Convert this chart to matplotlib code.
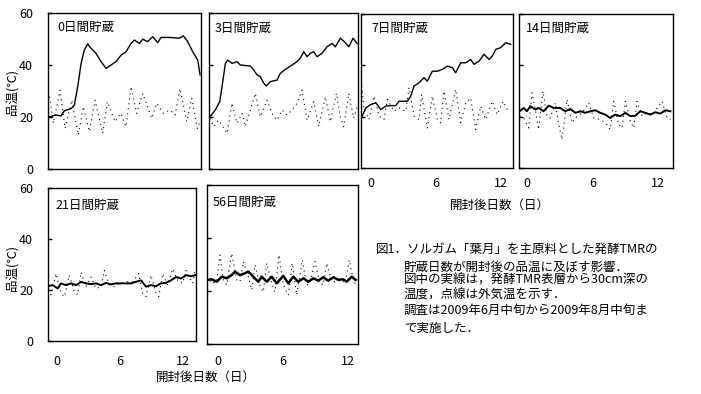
import matplotlib
matplotlib.use('Agg')
import matplotlib.pyplot as plt

plt.rcParams['font.family'] = ['Noto Sans CJK JP', 'DejaVu Sans']

# ---------------- data (days after opening, temperature °C) ----------------
panel_titles = ['0日間貯蔵', '3日間貯蔵', '7日間貯蔵', '14日間貯蔵', '21日間貯蔵', '56日間貯蔵']
x_ticks = [0, 6, 12]
y_ticks = [0, 20, 40, 60]
y_label = '品温(℃)'
x_label = '開封後日数（日）'

# 0日間貯蔵
d0_tmr_x = [-0.79, -0.1, 0.38, 0.70, 1.33, 1.65, 1.97, 2.29, 2.6, 2.92, 3.24, 3.71, 4.19, 4.67, 5.14,
            5.62, 6.1, 6.57, 7.05, 7.37, 7.84, 8.16, 8.63, 9.11, 9.59, 9.9, 10.7, 11.65, 12.03, 12.44,
            12.92, 13.4, 13.62]
d0_tmr = [19.9, 20.8, 20.4, 22.4, 23.2, 24.6, 31.7, 40.6, 45.8, 48.1, 46.4, 44.5, 41.3, 38.7, 40.0,
          41.3, 43.8, 45.1, 48.3, 49.6, 48.3, 49.9, 49.0, 50.9, 48.6, 50.6, 50.6, 50.3, 51.2, 49.0,
          45.1, 41.9, 36.2]
d0_air_x = [-0.73, -0.35, 0.29, 0.76, 1.4, 2.03, 2.5, 3.08, 3.62, 4.35, 4.79, 5.52, 6.07, 6.57, 7.05,
            7.59, 8.16, 9.02, 9.5, 10.12, 10.76, 11.24, 11.71, 12.35, 12.83, 13.36, 13.62]
d0_air = [27.8, 17.6, 30.4, 15.6, 26.5, 13.1, 24.0, 14.4, 26.5, 13.7, 25.9, 18.2, 21.4, 16.3, 31.7,
          21.4, 29.1, 19.5, 25.3, 21.4, 22.7, 20.8, 31.0, 18.2, 27.2, 15.6, 18.2]

# 3日間貯蔵
d3_tmr_x = [-0.79, -0.26, 0.16, 0.38, 0.7, 0.92, 1.33, 1.81, 2.12, 3.08, 3.4, 3.71, 4.03, 4.35, 4.6,
            4.98, 5.62, 5.93, 6.41, 7.05, 7.52, 7.84, 8.16, 8.48, 8.79, 9.11, 9.43, 9.9, 10.38, 10.86,
            11.17, 11.65, 12.03, 12.45, 12.86, 13.24]
d3_tmr = [19.9, 22.7, 25.9, 31.7, 40.6, 41.9, 40.6, 41.3, 40.0, 39.6, 38.1, 36.2, 35.5, 33.0, 31.9,
          33.6, 34.2, 36.8, 38.3, 40.0, 41.3, 42.6, 45.1, 43.2, 44.5, 45.1, 43.2, 44.5, 47.0, 48.3,
          47.0, 50.3, 49.0, 47.0, 50.3, 48.3]
d3_air_x = [-0.73, -0.41, 0.07, 0.38, 0.86, 1.33, 1.81, 2.29, 2.6, 3.08, 3.55, 4.03, 4.67, 5.14, 5.62,
            6.1, 6.57, 7.05, 7.52, 8.0, 8.48, 9.11, 9.59, 10.22, 10.7, 11.27, 11.65, 11.97, 12.45,
            12.92, 13.24]
d3_air = [19.5, 16.3, 18.8, 16.9, 13.7, 25.3, 17.6, 21.4, 16.3, 22.7, 29.1, 20.1, 26.5, 21.4, 18.8,
          22.7, 20.8, 22.7, 25.3, 30.4, 18.8, 25.9, 16.3, 27.8, 18.2, 29.1, 20.1, 16.3, 29.1,
          19.5, 24.0]

# 7日間貯蔵
d7_tmr_x = [-0.86, -0.49, -0.03, 0.44, 0.9, 1.36, 1.82, 2.29, 2.59, 3.36, 3.68, 3.98, 4.44, 4.91, 5.21,
            5.68, 6.14, 6.6, 7.06, 7.53, 7.84, 8.31, 8.77, 9.23, 9.54, 10.0, 10.46, 10.93, 11.23,
            11.55, 12.01, 12.47, 12.94]
d7_tmr = [19.9, 23.4, 24.7, 25.4, 22.8, 24.1, 24.3, 24.3, 26.0, 26.0, 28.0, 31.9, 33.2, 35.2, 33.8,
          37.7, 37.7, 38.4, 39.7, 39.1, 37.1, 41.0, 41.0, 42.3, 40.4, 41.6, 44.3, 42.3, 43.6,
          46.2, 46.9, 48.8, 48.2]
d7_air_x = [-0.86, -0.65, -0.19, 0.28, 0.74, 1.2, 1.51, 2.13, 2.59, 3.21, 3.52, 3.98, 4.44, 4.69, 5.21,
            5.68, 6.14, 6.45, 6.76, 7.22, 7.84, 8.31, 8.77, 9.23, 9.69, 10.16, 10.62, 11.23, 11.69,
            12.22, 12.78]
d7_air = [31.9, 22.8, 18.9, 28.0, 20.2, 18.9, 26.7, 22.1, 23.4, 22.1, 31.3, 20.2, 18.9, 28.6, 15.6,
          28.0, 18.9, 17.6, 29.9, 18.9, 30.6, 17.6, 25.4, 27.3, 15.0, 24.1, 18.9, 26.0, 20.8,
          26.0, 21.5]

# 14日間貯蔵
d14_tmr_x = [-0.67, -0.3, 0.0, 0.3, 0.76, 1.07, 1.53, 1.99, 2.45, 3.06, 3.51, 3.97, 4.43, 4.89, 5.35,
             5.81, 6.27, 6.72, 7.18, 7.64, 8.1, 8.56, 9.02, 9.48, 9.94, 10.39, 10.85, 11.31, 11.77,
             12.23, 12.69, 13.15]
d14_tmr = [22.1, 23.4, 22.1, 24.1, 22.8, 23.4, 22.1, 24.3, 23.4, 23.4, 22.1, 23.0, 21.5, 22.1, 21.5,
           22.1, 22.5, 21.5, 20.8, 19.5, 20.8, 20.2, 21.5, 20.2, 20.4, 22.1, 21.5, 20.8, 21.7,
           21.2, 22.5, 22.1]
d14_air_x = [-0.67, -0.3, 0.16, 0.46, 0.76, 1.07, 1.47, 1.83, 2.14, 2.6, 2.91, 3.21, 3.67, 4.13, 4.59,
             5.05, 5.66, 6.12, 6.72, 7.18, 7.64, 7.95, 8.41, 8.72, 9.02, 9.48, 9.79, 10.09, 10.55,
             11.01, 11.47, 11.93, 12.39, 12.84, 13.15]
d14_air = [20.2, 19.5, 15.6, 29.3, 22.8, 15.0, 29.9, 20.2, 19.5, 25.4, 16.9, 11.1, 26.7, 17.6, 20.2,
           21.5, 25.4, 19.5, 18.9, 17.6, 15.0, 26.0, 16.9, 15.6, 26.0, 18.2, 15.6, 26.0, 20.2,
           21.5, 20.8, 23.4, 26.0, 19.5, 18.9]

# 21日間貯蔵
d21_tmr_x = [-0.89, -0.41, 0.07, 0.38, 0.86, 1.33, 1.81, 2.29, 2.76, 3.24, 3.71, 4.19, 4.67, 5.14, 5.62,
             6.1, 6.57, 7.05, 7.52, 8.0, 8.48, 8.95, 9.43, 9.9, 10.38, 10.86, 11.33, 11.81, 12.29,
             12.76, 13.17]
d21_tmr = [21.5, 21.9, 20.6, 22.6, 21.9, 22.6, 21.9, 23.2, 22.6, 22.3, 22.6, 21.9, 22.8, 22.2, 22.6,
           22.6, 22.6, 22.6, 23.2, 23.8, 21.3, 21.9, 21.5, 22.6, 22.8, 23.8, 25.1, 24.5, 25.8,
           25.4, 25.8]
d21_air_x = [-0.89, -0.57, -0.1, 0.38, 0.7, 1.17, 1.65, 1.97, 2.29, 2.76, 3.24, 3.71, 4.19, 4.5, 4.98,
             5.46, 5.93, 6.57, 7.21, 7.78, 8.16, 8.48, 8.95, 9.43, 9.69, 10.07, 10.54, 11.02, 11.5,
             11.97, 12.29, 12.92, 13.17]
d21_air = [20.0, 18.1, 26.4, 18.7, 17.4, 25.8, 19.3, 18.1, 27.0, 21.3, 25.1, 20.6, 21.3, 27.7, 21.9,
           21.3, 22.6, 23.2, 23.2, 26.4, 18.7, 17.4, 25.8, 18.7, 17.4, 26.4, 21.9, 28.3, 23.8,
           22.6, 27.7, 22.6, 27.7]

# 56日間貯蔵
d56_tmr_x = [-1.04, -0.58, -0.12, 0.34, 0.8, 1.26, 1.57, 2.03, 2.49, 2.8, 3.26, 3.72, 4.04, 4.5, 4.96,
             5.42, 6.03, 6.49, 6.95, 7.41, 7.88, 8.34, 8.8, 9.26, 9.72, 10.18, 10.65, 11.11, 11.57,
             11.88, 12.35, 12.71]
d56_tmr = [24.2, 24.4, 23.5, 25.4, 24.8, 26.0, 27.3, 26.0, 26.7, 27.3, 25.4, 23.5, 25.4, 23.5, 25.4,
           22.9, 25.7, 22.9, 25.4, 23.5, 24.8, 23.5, 24.8, 23.9, 25.2, 23.9, 25.2, 24.2, 24.4,
           23.5, 25.4, 24.2]
d56_air_x = [-1.04, -0.58, -0.12, 0.18, 0.49, 0.8, 1.26, 1.73, 2.03, 2.34, 2.8, 3.11, 3.42, 3.88, 4.18,
             4.5, 4.96, 5.26, 5.63, 6.03, 6.49, 6.86, 7.27, 7.78, 8.19, 8.49, 8.96, 9.42, 9.72,
             10.04, 10.5, 10.96, 11.42, 11.73, 12.12, 12.49, 12.81]
d56_air = [25.4, 22.9, 23.5, 33.6, 24.2, 22.3, 34.2, 24.2, 23.5, 31.1, 25.4, 20.4, 29.8, 21.6, 19.7,
           30.5, 22.9, 19.7, 33.6, 22.3, 18.5, 30.5, 18.5, 31.7, 22.3, 22.9, 31.1, 22.9, 22.3,
           30.5, 23.5, 23.5, 24.2, 22.9, 31.7, 24.2, 21.6]

caption_lines = [
    '図1．ソルガム「葉月」を主原料とした発酵TMRの',
    '貯蔵日数が開封後の品温に及ぼす影響．',
    '図中の実線は，発酵TMR表層から30cm深の',
    '温度，点線は外気温を示す．',
    '調査は2009年6月中旬から2009年8月中旬ま',
    'で実施した．',
]

# ---------------- layout ----------------
W, H = 701, 394
fig = plt.figure(figsize=(W / 100, H / 100), dpi=100)


def box(l, t, r, b):
    return [l / W, 1 - b / H, (r - l) / W, (b - t) / H]


panels = [
    dict(rect=box(48, 13, 201, 169), xlim=(-0.86, 13.71), tmr=(d0_tmr_x, d0_tmr), air=(d0_air_x, d0_air),
         ylab=True, xlab=False, lw=1.0, toff=(9, 14), xpad=7),
    dict(rect=box(209, 13, 358, 169), xlim=(-0.86, 13.33), tmr=(d3_tmr_x, d3_tmr), air=(d3_air_x, d3_air),
         ylab=False, xlab=False, lw=1.0, toff=(6, 15), xpad=7),
    dict(rect=box(361, 14, 513, 168), xlim=(-0.93, 13.15), tmr=(d7_tmr_x, d7_tmr), air=(d7_air_x, d7_air),
         ylab=False, xlab=True, lw=1.0, toff=(10, 14), xpad=6.5),
    dict(rect=box(519, 14, 673, 168), xlim=(-0.73, 13.39), tmr=(d14_tmr_x, d14_tmr), air=(d14_air_x, d14_air),
         ylab=False, xlab=True, lw=1.4, toff=(7, 14), xpad=6.5),
    dict(rect=box(48, 188, 196, 341), xlim=(-0.86, 13.24), tmr=(d21_tmr_x, d21_tmr), air=(d21_air_x, d21_air),
         ylab=True, xlab=True, lw=1.4, toff=(7, 17), xpad=10),
    dict(rect=box(207, 185, 358, 344), xlim=(-1.02, 12.93), tmr=(d56_tmr_x, d56_tmr), air=(d56_air_x, d56_air),
         ylab=False, xlab=True, lw=1.8, toff=(6, 17), xpad=8),
]

for title, p in zip(panel_titles, panels):
    ax = fig.add_axes(p['rect'])
    ax.plot(p['air'][0], p['air'][1], color='black', lw=0.8, linestyle=(0, (1, 3.5)))
    ax.plot(p['tmr'][0], p['tmr'][1], color='black', lw=p['lw'], solid_joinstyle='round')
    ax.set_xlim(*p['xlim'])
    ax.set_ylim(0, 60)
    ax.set_xticks(x_ticks)
    ax.set_yticks(y_ticks)
    for s in ax.spines.values():
        s.set_linewidth(1.0)
        s.set_color('black')
    ax.tick_params(axis='y', direction='in', length=3, width=1, pad=10.8, labelsize=9,
                   labelleft=p['ylab'])
    ax.tick_params(axis='x', length=0, pad=p['xpad'], labelsize=9, labelbottom=p['xlab'])
    ax.annotate(title, xy=(0, 1), xycoords='axes fraction', xytext=(p['toff'][0], -p['toff'][1]),
                textcoords='offset pixels', ha='left', va='center', fontsize=9)

# axis labels
fig.text(12 / W, 1 - 92 / H, y_label, rotation=90, ha='center', va='center', fontsize=9)
fig.text(12 / W, 1 - 268 / H, y_label, rotation=90, ha='center', va='center', fontsize=9)
fig.text(500 / W, 1 - 205 / H, x_label, ha='center', va='center', fontsize=9)
fig.text(206 / W, 1 - 377 / H, x_label, ha='center', va='center', fontsize=9)

# caption
cap_y = [249, 267, 280, 295, 310, 328]
for i, (line, yy) in enumerate(zip(caption_lines, cap_y)):
    xx = 376 if i == 0 else 404
    fig.text(xx / W, 1 - yy / H, line, ha='left', va='center', fontsize=9)

fig.savefig('out.png', dpi=100)
